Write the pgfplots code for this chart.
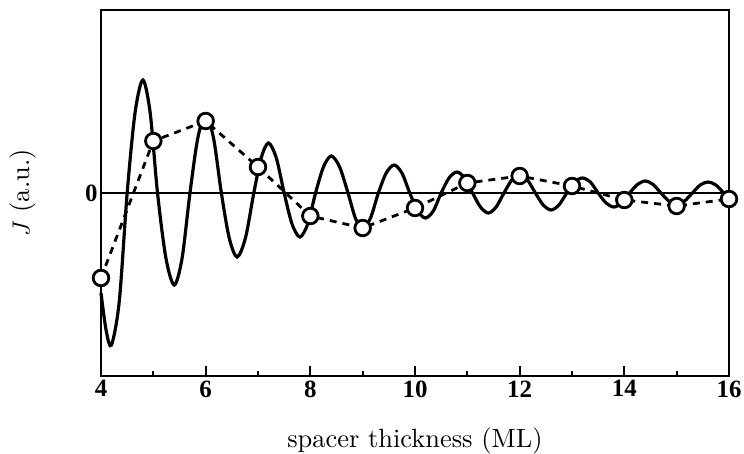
\documentclass[border=0pt]{standalone}
\usepackage{fontspec}
\usepackage{pgfplots}
\pgfplotsset{compat=1.18}
\usetikzlibrary{calc}
\newfontfamily\tickfont{Liberation Serif}
\newfontfamily\labelfont{lmroman10-regular}[Extension=.otf]

\begin{document}
\begin{tikzpicture}[x=1bp,y=1bp]
\begin{axis}[
  name=ax,
  scale only axis,
  width=628bp, height=366bp,
  xmin=4, xmax=16,
  ymin=-1.83, ymax=1.83,
  xtick={4,6,...,16},
  minor xtick={5,7,...,15},
  ytick={0},
  xtick pos=bottom, ytick pos=left,
  tick align=inside,
  major tick length=10bp, minor tick length=5bp,
  every tick/.style={line width=1.8pt, black},
  y tick style={draw=none},
  axis line style={line width=2pt},
  /pgf/number format/assume math mode=true,
  tick label style={font=\tickfont\bfseries\fontsize{25}{25}\selectfont},
  xticklabel style={yshift=-1bp},
  xlabel={spacer thickness (ML)},
  ylabel={$J$ (a.u.)},
  label style={font=\labelfont\fontsize{26.5}{26.5}\selectfont},
  xlabel style={yshift=-24bp},
  ylabel style={yshift=42bp},
  clip=false,
]
% zero line
\addplot[line width=2.8pt, black] coordinates {(4,0) (16,0)};
% oscillating curve
\addplot[line width=3.2pt, black, smooth, tension=0.5] coordinates {
(4.00,-1.00) (4.10,-1.38) (4.20,-1.52) (4.35,-1.08) (4.50,0)
(4.65,0.80) (4.80,1.13) (4.94,0.80) (5.08,0)
(5.24,-0.65) (5.40,-0.92) (5.55,-0.65) (5.70,0)
(5.85,0.55) (6.00,0.78) (6.15,0.55) (6.30,0)
(6.45,-0.45) (6.60,-0.64) (6.76,-0.45) (6.92,0)
(7.06,0.35) (7.20,0.50) (7.35,0.35) (7.50,0)
(7.65,-0.31) (7.80,-0.44) (7.95,-0.31) (8.10,0)
(8.25,0.26) (8.40,0.37) (8.56,0.26) (8.72,0)
(8.86,-0.25) (9.00,-0.36) (9.15,-0.25) (9.30,0)
(9.45,0.20) (9.60,0.28) (9.75,0.20) (9.90,0)
(10.05,-0.18) (10.20,-0.25) (10.35,-0.18) (10.50,0)
(10.65,0.15) (10.80,0.21) (10.95,0.15) (11.10,0)
(11.25,-0.14) (11.40,-0.20) (11.55,-0.14) (11.70,0)
(11.85,0.13) (12.00,0.18) (12.15,0.13) (12.30,0)
(12.45,-0.12) (12.60,-0.17) (12.75,-0.12) (12.90,0)
(13.05,0.11) (13.20,0.15) (13.35,0.11) (13.50,0)
(13.65,-0.10) (13.80,-0.14) (13.95,-0.10) (14.10,0)
(14.25,0.085) (14.40,0.12) (14.55,0.085) (14.70,0)
(14.85,-0.08) (15.00,-0.11) (15.15,-0.08) (15.30,0)
(15.45,0.08) (15.60,0.11) (15.75,0.08) (15.90,0)
(16.00,-0.05)
};
% dashed series with open circles
\addplot[line width=2.8pt, black, dash pattern=on 7bp off 6bp,
  mark=*, mark size=7.8bp,
  mark options={solid, fill=white, draw=black, line width=2.8pt}]
  coordinates {
(4,-0.85) (5,0.52) (6,0.72) (7,0.26) (8,-0.23) (9,-0.35) (10,-0.15)
(11,0.10) (12,0.17) (13,0.07) (14,-0.07) (15,-0.13) (16,-0.06)
};
\end{axis}
\pgfresetboundingbox
\path[use as bounding box] ($(ax.south west)+(-101bp,-78bp)$) rectangle ($(ax.north east)+(15bp,10bp)$);
\end{tikzpicture}
\end{document}
